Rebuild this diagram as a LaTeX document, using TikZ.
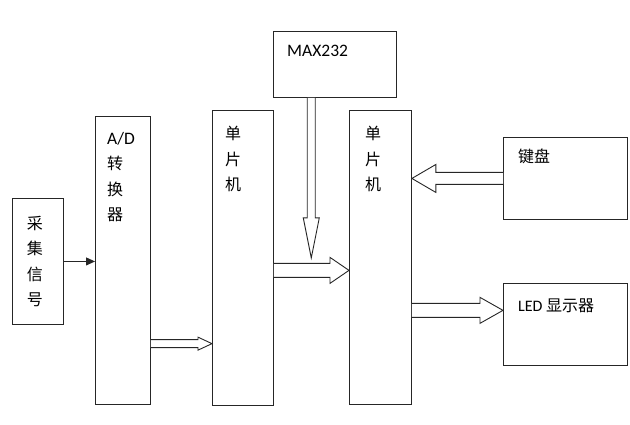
\documentclass[tikz,border=0pt]{standalone}
\usepackage{fontspec}
\setmainfont{Carlito}
\newfontfamily\cjk{Noto Sans CJK SC}
\usepackage{tikz}
\usetikzlibrary{arrows.meta,calc,positioning}

\tikzset{box/.style={draw=black!85,line width=0.9pt,rectangle,anchor=north west,inner sep=0pt},
  lbl/.style={inner sep=0pt,font=\fontsize{16}{25.5}\selectfont},
  big/.style={font=\fontsize{17.5}{25.5}\selectfont},
  fatline/.style={draw=black!85,line width=0.9pt,line join=miter,fill=white}}

% hollow arrow: from, to, shaft half width, head half width, head length
\newcommand\fatarrow[5]{%
  \coordinate (fa-h) at ($(#2)!#5!(#1)$);
  \draw[fatline] ($(#1)!#3!90:(#2)$) -- ($(fa-h)!#3!90:(#2)$) -- ($(fa-h)!#4!90:(#2)$) -- (#2)
    -- ($(fa-h)!#4!-90:(#2)$) -- ($(fa-h)!#3!-90:(#2)$) -- ($(#1)!#3!-90:(#2)$);
}

\begin{document}
\begin{tikzpicture}[x=1pt,y=-1pt]
\useasboundingbox (0,0) rectangle (630,425);
\node[box,minimum width=51pt,minimum height=126pt] (sig) at (12,198) {};
\node[box,minimum width=55pt,minimum height=288pt] (ad) at (95,116) {};
\node[box,minimum width=61pt,minimum height=295pt] (mcuA) at (212,110) {};
\node[box,minimum width=123pt,minimum height=66pt] (max) at (273,31) {};
\node[box,minimum width=62pt,minimum height=294pt] (mcuB) at (349,110) {};
\node[box,minimum width=124pt,minimum height=82pt] (key) at (503,137) {};
\node[box,minimum width=124pt,minimum height=82pt] (led) at (503,283) {};
%labels
\node[lbl,align=center,xshift=-3pt] (sigtxt) at (sig.center) {\cjk 采\\\cjk 集\\\cjk 信\\\cjk 号};
\node[lbl,align=left,anchor=north west] (adtxt) at ($(ad.north west)+(12,16)$) {{\fontsize{17.5}{20}\selectfont A/D}\\\cjk 转\\\cjk 换\\\cjk 器};
\node[lbl,align=left,anchor=north west] (mcuAtxt) at ($(mcuA.north west)+(13,16)$) {\cjk 单\\\cjk 片\\\cjk 机};
\node[lbl,align=left,anchor=north west] (mcuBtxt) at ($(mcuB.north west)+(16,16)$) {\cjk 单\\\cjk 片\\\cjk 机};
\node[lbl,big,anchor=north west] (maxtxt) at ($(max.north west)+(14,14)$) {MAX232};
\node[lbl,anchor=north west] (keytxt) at ($(key.north west)+(15,12)$) {\cjk 键盘};
\node[lbl,anchor=north west] (ledtxt) at ($(led.north west)+(15,16)$) {LED {\cjk 显示器}};
%connectors
\draw[black!85,line width=1pt,-{Triangle[length=9pt,width=8pt]}] (sig.east) -- (sig.east -| ad.west);
\coordinate (a1) at ($(ad.north east)!0.788!(ad.south east)$);
\coordinate (b1) at (a1 -| mcuA.west);
\fatarrow{a1}{b1}{4pt}{6.5pt}{14pt}
\coordinate (a2) at ($(max.south west)!0.309!(max.south east)$);
\coordinate (b2) at ($(a2)+(0,160)$);
\fatarrow{a2}{b2}{4pt}{8pt}{40pt}
\coordinate (a3) at ($(mcuA.north east)!0.542!(mcuA.south east)$);
\coordinate (b3) at (a3 -| mcuB.west);
\fatarrow{a3}{b3}{7pt}{13pt}{19pt}
\coordinate (a4) at (key.west);
\coordinate (b4) at (key.west -| mcuB.east);
\fatarrow{a4}{b4}{6pt}{14pt}{24pt}
\coordinate (b5) at ($(led.north west)!0.33!(led.south west)$);
\coordinate (a5) at (b5 -| mcuB.east);
\fatarrow{a5}{b5}{7pt}{13pt}{23pt}
\end{tikzpicture}
\end{document}
